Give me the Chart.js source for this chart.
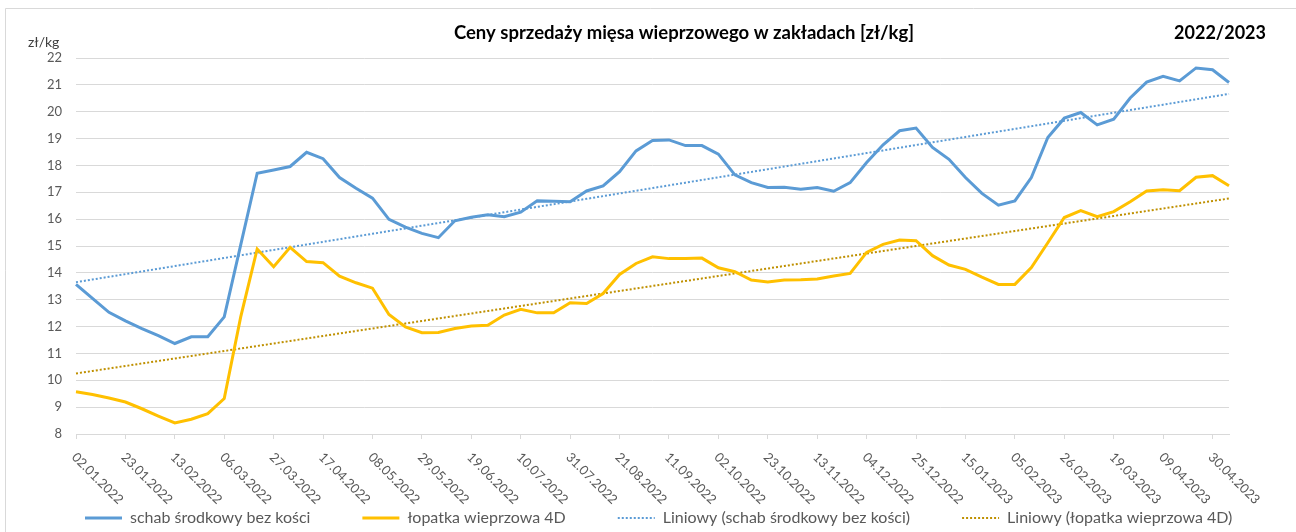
<!DOCTYPE html>
<html lang="pl">
<head>
<meta charset="utf-8">
<title>Ceny sprzedaży mięsa wieprzowego</title>
<script src="https://cdn.jsdelivr.net/npm/chart.js@4.4.1/dist/chart.umd.min.js"></script>
<style>
  html, body { margin: 0; padding: 0; background: #fff; }
  #wrap { width: 1296px; height: 532px; }
</style>
</head>
<body>
<div id="wrap"><canvas id="chart" width="1296" height="532"></canvas></div>
<script>
// tygodnie (notowania cotygodniowe)
const weekLabels = [
    '02.01.2022', '09.01.2022', '16.01.2022', '23.01.2022', '30.01.2022',
    '06.02.2022', '13.02.2022', '20.02.2022', '27.02.2022',
    '06.03.2022', '13.03.2022', '20.03.2022', '27.03.2022',
    '03.04.2022', '10.04.2022', '17.04.2022', '24.04.2022',
    '01.05.2022', '08.05.2022', '15.05.2022', '22.05.2022', '29.05.2022',
    '05.06.2022', '12.06.2022', '19.06.2022', '26.06.2022',
    '03.07.2022', '10.07.2022', '17.07.2022', '24.07.2022', '31.07.2022',
    '07.08.2022', '14.08.2022', '21.08.2022', '28.08.2022',
    '04.09.2022', '11.09.2022', '18.09.2022', '25.09.2022',
    '02.10.2022', '09.10.2022', '16.10.2022', '23.10.2022', '30.10.2022',
    '06.11.2022', '13.11.2022', '20.11.2022', '27.11.2022',
    '04.12.2022', '11.12.2022', '18.12.2022', '25.12.2022',
    '01.01.2023', '08.01.2023', '15.01.2023', '22.01.2023', '29.01.2023',
    '05.02.2023', '12.02.2023', '19.02.2023', '26.02.2023',
    '05.03.2023', '12.03.2023', '19.03.2023', '26.03.2023',
    '02.04.2023', '09.04.2023', '16.04.2023', '23.04.2023', '30.04.2023',
    '07.05.2023'
];

// schab środkowy bez kości [zł/kg]
const schab = [
    13.57, 13.05, 12.53, 12.21, 11.92, 11.66, 11.37, 11.62, 11.62, 12.36,
    15.04, 17.71, 17.83, 17.96, 18.49, 18.25, 17.55, 17.15, 16.78, 15.99,
    15.70, 15.47, 15.31, 15.94, 16.07, 16.16, 16.09, 16.26, 16.68, 16.67,
    16.65, 17.05, 17.24, 17.77, 18.54, 18.93, 18.95, 18.74, 18.74, 18.42,
    17.65, 17.36, 17.18, 17.19, 17.11, 17.18, 17.04, 17.36, 18.11, 18.77,
    19.29, 19.39, 18.67, 18.23, 17.55, 16.96, 16.52, 16.68, 17.55, 19.04,
    19.76, 19.97, 19.51, 19.72, 20.51, 21.10, 21.32, 21.15, 21.63, 21.56,
    21.09
];

// łopatka wieprzowa 4D [zł/kg]
const lopatka = [
    9.57, 9.47, 9.34, 9.19, 8.94, 8.67, 8.41, 8.55, 8.76, 9.32,
    12.36, 14.89, 14.23, 14.95, 14.42, 14.38, 13.88, 13.63, 13.43, 12.45,
    11.99, 11.77, 11.78, 11.93, 12.02, 12.05, 12.43, 12.64, 12.51, 12.51,
    12.89, 12.86, 13.23, 13.94, 14.35, 14.60, 14.53, 14.53, 14.55, 14.19,
    14.04, 13.73, 13.66, 13.73, 13.74, 13.77, 13.88, 13.98, 14.76, 15.06,
    15.22, 15.20, 14.64, 14.29, 14.13, 13.84, 13.57, 13.57, 14.20, 15.12,
    16.06, 16.32, 16.09, 16.28, 16.65, 17.05, 17.09, 17.06, 17.56, 17.62,
    17.24
];

const yTicks = { min: 8, max: 22, step: 1 };

// linia trendu (regresja liniowa, jak w Excelu)
function linearTrend(values) {
    const n = values.length;
    let sx = 0, sy = 0, sxy = 0, sxx = 0;
    values.forEach((v, i) => { sx += i; sy += v; sxy += i * v; sxx += i * i; });
    const slope = (n * sxy - sx * sy) / (n * sxx - sx * sx);
    const intercept = (sy - slope * sx) / n;
    return values.map((_, i) => intercept + slope * i);
}

const FONT = 'Lato, "Open Sans", sans-serif';

// ramka, tytuł, opis osi Y
const frame = {
    id: 'frame',
    beforeDraw(chart) {
        const ctx = chart.ctx;
        ctx.save();
        ctx.fillStyle = '#fff';
        ctx.fillRect(0, 0, chart.width, chart.height);
        ctx.strokeStyle = '#d9d9d9';
        ctx.lineWidth = 1;
        ctx.beginPath();
        ctx.moveTo(5.5, chart.height);
        ctx.lineTo(5.5, 8.5);
        ctx.lineTo(chart.width, 8.5);
        ctx.stroke();
        ctx.restore();
    },
    afterDraw(chart) {
        const ctx = chart.ctx;
        ctx.save();
        ctx.fillStyle = '#000';
        ctx.textBaseline = 'middle';
        ctx.font = `bold 18.5px ${FONT}`;
        ctx.textAlign = 'center';
        ctx.fillText('Ceny sprzedaży mięsa wieprzowego w zakładach [zł/kg]', 684, 33);
        ctx.font = `bold 18px ${FONT}`;
        ctx.textAlign = 'right';
        ctx.fillText('2022/2023', 1266, 33);
        ctx.fillStyle = '#404040';
        ctx.font = `14px ${FONT}`;
        ctx.textAlign = 'left';
        ctx.fillText('zł/kg', 28, 42);
        ctx.restore();
    }
};

// etykiety osi X obrócone o 45° w dół
const xLabels = {
    id: 'xLabels',
    afterDraw(chart) {
        const { ctx, chartArea } = chart;
        const x = chart.scales.x;
        ctx.save();
        ctx.font = `13px ${FONT}`;
        ctx.fillStyle = '#595959';
        ctx.textAlign = 'left';
        ctx.textBaseline = 'middle';
        weekLabels.forEach((lab, i) => {
            if (i % 3 !== 0) return;
            ctx.save();
            ctx.translate(x.getPixelForValue(i) - 2, chartArea.bottom + 21);
            ctx.rotate(Math.PI / 4);
            ctx.fillText(lab, 0, 0);
            ctx.restore();
        });
        ctx.restore();
    }
};

new Chart(document.getElementById('chart'), {
    type: 'line',
    data: {
        labels: weekLabels,
        datasets: [
            {
                label: 'schab środkowy bez kości',
                data: schab,
                borderColor: '#5B9BD5',
                backgroundColor: '#5B9BD5',
                borderWidth: 3,
                pointRadius: 0
            },
            {
                label: 'łopatka wieprzowa 4D',
                data: lopatka,
                borderColor: '#FFC000',
                backgroundColor: '#FFC000',
                borderWidth: 3,
                pointRadius: 0
            },
            {
                label: 'Liniowy (schab środkowy bez kości)',
                data: linearTrend(schab),
                borderColor: '#5B9BD5',
                backgroundColor: '#5B9BD5',
                borderWidth: 2,
                borderDash: [2, 2],
                pointRadius: 0
            },
            {
                label: 'Liniowy (łopatka wieprzowa 4D)',
                data: linearTrend(lopatka),
                borderColor: '#BF9000',
                backgroundColor: '#BF9000',
                borderWidth: 2,
                borderDash: [2, 2],
                pointRadius: 0
            }
        ]
    },
    options: {
        responsive: false,
        animation: false,
        devicePixelRatio: 1,
        layout: { padding: { top: 58, right: 0, bottom: -4, left: 33 } },
        plugins: {
            title: { display: false },
            tooltip: { enabled: false },
            legend: {
                position: 'bottom',
                align: 'start',
                labels: {
                    boxWidth: 37,
                    boxHeight: 0,
                    padding: 52,
                    color: '#595959',
                    font: { family: FONT, size: 16 }
                }
            }
        },
        scales: {
            x: {
                ticks: { display: false, autoSkip: false },
                grid: {
                    drawOnChartArea: false,
                    drawTicks: true,
                    tickLength: 5,
                    color: c => (c.index % 3 === 0 ? '#d9d9d9' : 'rgba(0,0,0,0)')
                },
                border: { color: '#d9d9d9' },
                afterFit: s => { s.height = 24; }
            },
            y: {
                min: yTicks.min,
                max: yTicks.max,
                ticks: {
                    stepSize: yTicks.step,
                    padding: 14,
                    color: '#595959',
                    font: { family: FONT, size: 13 }
                },
                grid: { color: '#d9d9d9', drawTicks: false },
                border: { display: false },
                afterFit: s => { s.width = 43; }
            },
            // pusty margines z prawej strony wykresu
            yRight: {
                position: 'right',
                display: true,
                ticks: { display: false },
                grid: { display: false },
                border: { display: false },
                afterFit: s => { s.width = 67; }
            }
        }
    },
    plugins: [frame, xLabels]
});
</script>
</body>
</html>
